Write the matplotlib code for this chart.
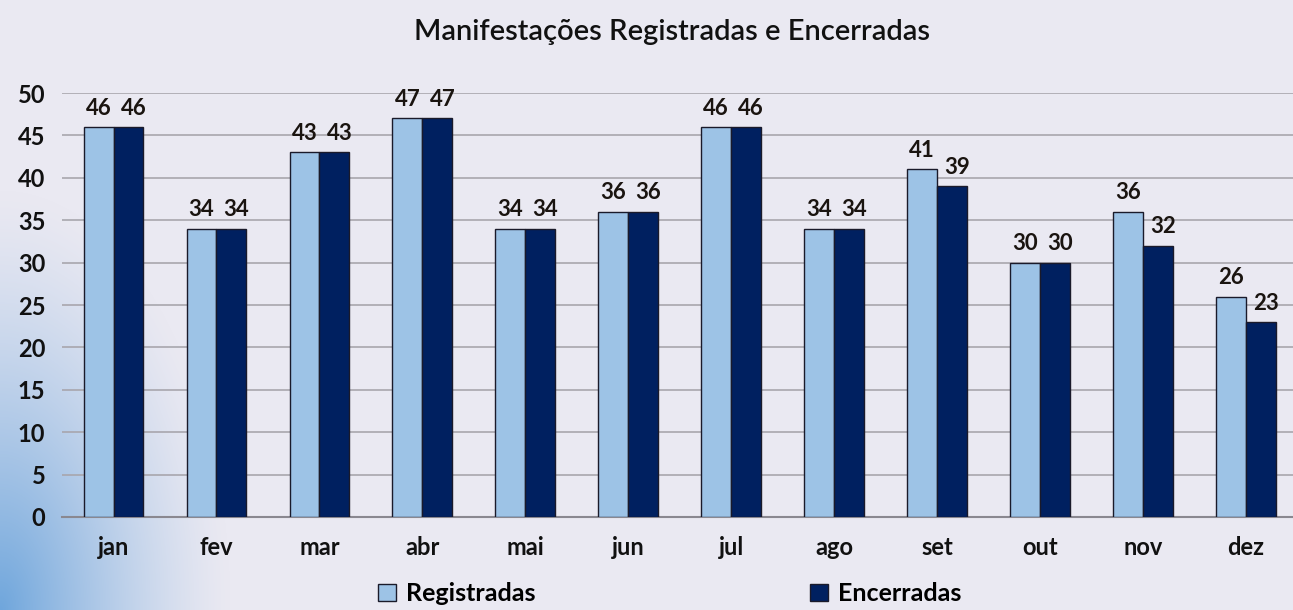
import numpy as np
import matplotlib
matplotlib.use('Agg')
import matplotlib.pyplot as plt
from matplotlib.patches import Patch

meses = ['jan', 'fev', 'mar', 'abr', 'mai', 'jun', 'jul', 'ago', 'set', 'out', 'nov', 'dez']
registradas = [46, 34, 43, 47, 34, 36, 46, 34, 41, 30, 36, 26]
encerradas = [46, 34, 43, 47, 34, 36, 46, 34, 39, 30, 32, 23]

C_LIGHT = '#9dc3e6'
C_DARK = '#002060'
BG = '#eae9f2'
FONT = ['Lato', 'DejaVu Sans']

plt.rcParams['font.family'] = FONT

fig = plt.figure(figsize=(12.93, 6.10), dpi=100)
fig.patch.set_facecolor(BG)

# background with blue glow along the lower left edge
bg_ax = fig.add_axes([0, 0, 1, 1], zorder=-10)
yy, xx = np.mgrid[0:610, 0:1293]
d = np.sqrt((xx / 230.0) ** 2 + ((yy - 610) / 420.0) ** 2)
glow = np.clip(1 - d, 0, 1) ** 1.3
base = np.array(matplotlib.colors.to_rgb(BG))
blue = np.array(matplotlib.colors.to_rgb('#6fa6dc'))
img = base[None, None, :] * (1 - glow[..., None]) + blue[None, None, :] * glow[..., None]
bg_ax.imshow(img, aspect='auto', extent=[0, 1, 0, 1], origin='upper')
bg_ax.axis('off')

ax = fig.add_axes([0.048, 0.1525, 0.952, 0.695])
ax.set_facecolor('none')

x = np.arange(len(meses))
w = 0.29
ax.bar(x - w / 2, registradas, w, color=C_LIGHT, edgecolor='#1a1a2a', linewidth=1.0, zorder=3)
ax.bar(x + w / 2, encerradas, w, color=C_DARK, edgecolor='#1a1a2a', linewidth=1.0, zorder=3)

for xi, v in zip(x - w / 2, registradas):
    ax.annotate(str(v), (xi, v), xytext=(0, 6), textcoords='offset points',
                ha='center', va='bottom', fontsize=16, fontweight='bold', color='#1a1410')
for xi, v in zip(x + w / 2, encerradas):
    ax.annotate(str(v), (xi + 0.05, v), xytext=(0, 6), textcoords='offset points',
                ha='center', va='bottom', fontsize=16, fontweight='bold', color='#1a1410',
                annotation_clip=False)

ax.set_xlim(-0.5, 11.46)
ax.set_ylim(0, 50)
ax.set_yticks(np.arange(0, 51, 5))
ax.set_xticks(x)
ax.set_xticklabels(meses)
ax.tick_params(axis='x', length=0, pad=14, labelsize=17)
ax.tick_params(axis='y', length=0, pad=12, labelsize=17)
for lab in ax.get_xticklabels() + ax.get_yticklabels():
    lab.set_fontweight('bold')
    lab.set_color('#111111')

ax.grid(axis='y', color='#a8a6ad', linewidth=1.2, zorder=0)
for s in ['top', 'right', 'left']:
    ax.spines[s].set_visible(False)
ax.spines['bottom'].set_color('#8a8890')
ax.spines['bottom'].set_linewidth(1.5)

fig.text(0.52, 0.948, 'Manifestações Registradas e Encerradas', ha='center', va='center',
         fontsize=21, fontweight='semibold', color='#111111')

handles = [Patch(facecolor=C_LIGHT, edgecolor='#1a1a2a'), Patch(facecolor=C_DARK, edgecolor='#1a1a2a')]
fig.legend(handles, ['Registradas', 'Encerradas'], loc='center', bbox_to_anchor=(0.518, 0.027),
           ncol=2, frameon=False, columnspacing=11.0, handlelength=0.7, handleheight=0.7,
           handletextpad=0.4, prop={'family': FONT, 'weight': 'bold', 'size': 18})

fig.savefig('out.png', dpi=100, facecolor=BG)
